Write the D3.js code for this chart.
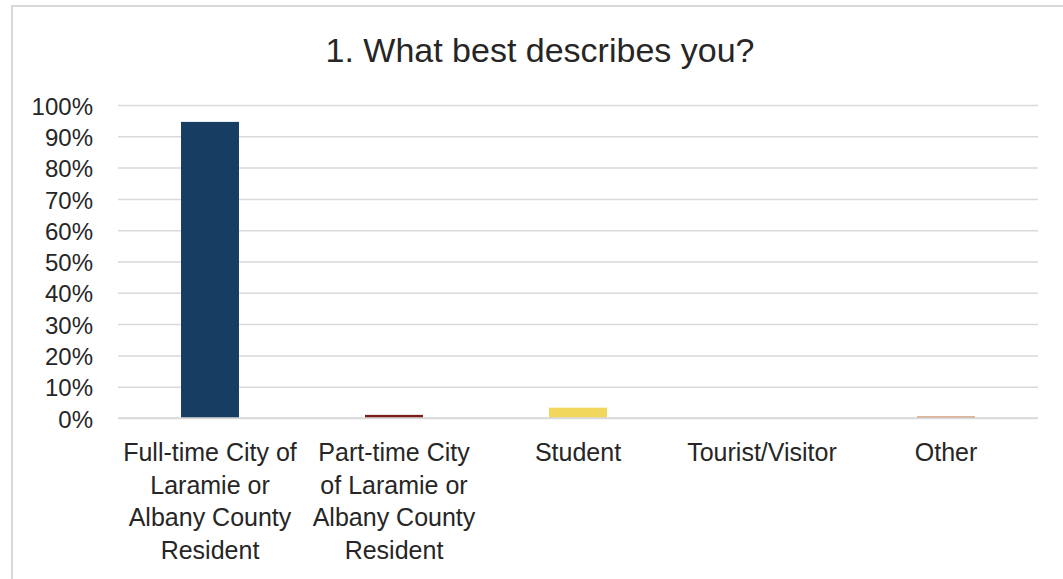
<!DOCTYPE html>
<html>
  <head>
    <style>
      body {margin: 0; background: #ffffff;}
      * {font-family: "Liberation Sans", Arial, sans-serif;}
    </style>
    <script src="https://d3js.org/d3.v7.min.js"></script>
  </head>
  <body>
    <div id="chart-div"></div>
    <script>
      const title = "1. What best describes you?"
      const categories = ["Full-time City of Laramie or Albany County Resident",
                          "Part-time City of Laramie or Albany County Resident",
                          "Student", "Tourist/Visitor", "Other"]
      // labels wrapped the way the chart wraps them
      const categoryLines = [["Full-time City of", "Laramie or", "Albany County", "Resident"],
                             ["Part-time City", "of Laramie or", "Albany County", "Resident"],
                             ["Student"], ["Tourist/Visitor"], ["Other"]]
      const values = [0.946, 0.010, 0.033, 0, 0.005]
      const barColors = ["#173d63", "#7a1c1c", "#f1d75b", "#4a7ab0", "#c97a4a"]
      const yTicks = [0, 0.1, 0.2, 0.3, 0.4, 0.5, 0.6, 0.7, 0.8, 0.9, 1.0]

      var w = 1063, h = 579
      margin = ({top: 105, right: 25, bottom: 161, left: 118})

      var svg = d3.select("#chart-div")
        .append("svg")
        .attr("width", w)
        .attr("height", h)

      // chart frame (right and bottom edges run off the picture)
      svg.append("rect")
        .attr("x", 12)
        .attr("y", 6)
        .attr("width", w + 20)
        .attr("height", h + 20)
        .style("fill", "none")
        .style("stroke", "#d9d9d9")
        .style("stroke-width", 2)

      svg.append("text")
        .attr("x", 540)
        .attr("y", 62)
        .attr("text-anchor", "middle")
        .style("font-size", "34px")
        .style("fill", "#262626")
        .text(title)

      var x = d3.scaleBand()
        .domain(categories)
        .range([margin.left, w - margin.right])
        .paddingInner(0.685)
        .paddingOuter(0.3425)

      var y = d3.scaleLinear()
        .domain([0, 1])
        .range([h - margin.bottom, margin.top])

      // gridlines + tick labels
      var yAxis = svg.append("g")
        .attr("transform", "translate(" + margin.left + ",0)")
        .call(d3.axisLeft(y)
          .tickValues(yTicks)
          .tickFormat(d3.format(".0%"))
          .tickSize(-(w - margin.left - margin.right))
          .tickPadding(25))
      yAxis.select(".domain").remove()
      yAxis.selectAll(".tick line")
        .style("stroke", "#d9d9d9")
        .style("stroke-width", 1.5)
      yAxis.selectAll(".tick text")
        .style("font-size", "24px")
        .style("fill", "#262626")
        .attr("dy", "0.38em")

      svg.selectAll(".bar")
        .data(values)
        .enter()
        .append("rect")
          .attr("class", "bar")
          .attr("x", (d, i) => x(categories[i]))
          .attr("y", d => y(d))
          .attr("width", x.bandwidth())
          .attr("height", d => y(0) - y(d))
          .style("fill", (d, i) => barColors[i])

      // baseline
      svg.append("line")
        .attr("x1", margin.left)
        .attr("x2", w - margin.right)
        .attr("y1", y(0))
        .attr("y2", y(0))
        .style("stroke", "#d9d9d9")
        .style("stroke-width", 1.5)

      var labels = svg.selectAll(".cat-label")
        .data(categories)
        .enter()
        .append("text")
          .attr("class", "cat-label")
          .attr("text-anchor", "middle")
          .attr("x", d => x(d) + x.bandwidth() / 2)
          .attr("y", 461)
          .style("font-size", "25px")
          .style("fill", "#262626")

      labels.each(function(d, i) {
        d3.select(this).selectAll("tspan")
          .data(categoryLines[i])
          .enter()
          .append("tspan")
            .attr("x", x(d) + x.bandwidth() / 2)
            .attr("dy", (t, j) => j == 0 ? 0 : 32.5)
            .text(t => t)
      })
    </script>
  </body>
</html>
